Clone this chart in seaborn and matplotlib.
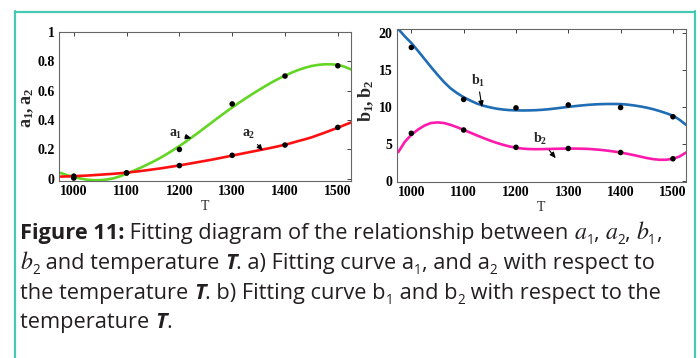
import numpy as np
import pandas as pd
import matplotlib
matplotlib.use("Agg")
import matplotlib.pyplot as plt
import seaborn as sns
from matplotlib.lines import Line2D

# ---------------- data ----------------
T_pts = [1000, 1100, 1200, 1300, 1400, 1500]
a1_pts = [0.005, 0.04, 0.20, 0.51, 0.70, 0.77]
a2_pts = [0.018, 0.04, 0.09, 0.16, 0.23, 0.35]
b1_pts = [18.1, 11.05, 9.9, 10.3, 9.95, 8.7]
b2_pts = [6.45, 6.9, 4.55, 4.4, 3.85, 3.0]

# fitted curves (every 12.5 K from 975 to 1525)
T_curve = [975, 987.5, 1000, 1012.5, 1025, 1037.5, 1050, 1062.5, 1075, 1087.5,
           1100, 1112.5, 1125, 1137.5, 1150, 1162.5, 1175, 1187.5, 1200, 1212.5,
           1225, 1237.5, 1250, 1262.5, 1275, 1287.5, 1300, 1312.5, 1325, 1337.5,
           1350, 1362.5, 1375, 1387.5, 1400, 1412.5, 1425, 1437.5, 1450, 1462.5,
           1475, 1487.5, 1500, 1512.5, 1525]
a1_curve = [0.040, 0.024, 0.012, 0.002, -0.006, -0.010, -0.009, -0.005, 0.003, 0.017,
            0.035, 0.053, 0.073, 0.094, 0.116, 0.140, 0.166, 0.194, 0.223, 0.254,
            0.286, 0.319, 0.353, 0.387, 0.421, 0.454, 0.486, 0.517, 0.547, 0.576,
            0.604, 0.631, 0.657, 0.681, 0.703, 0.723, 0.741, 0.756, 0.768, 0.776,
            0.780, 0.780, 0.776, 0.764, 0.745]
a2_curve = [0.015, 0.016, 0.018, 0.020, 0.022, 0.025, 0.028, 0.031, 0.034, 0.038,
            0.042, 0.047, 0.052, 0.058, 0.064, 0.070, 0.077, 0.084, 0.091, 0.099,
            0.107, 0.115, 0.123, 0.131, 0.140, 0.149, 0.158, 0.167, 0.176, 0.185,
            0.194, 0.203, 0.212, 0.222, 0.232, 0.244, 0.257, 0.269, 0.282, 0.298,
            0.314, 0.331, 0.348, 0.366, 0.384]
b1_curve = [20.6, 19.6, 18.7, 17.65, 16.55, 15.45, 14.4, 13.4, 12.55, 11.9,
            11.35, 10.9, 10.5, 10.2, 9.98, 9.8, 9.68, 9.6, 9.57, 9.55,
            9.56, 9.59, 9.64, 9.72, 9.82, 9.93, 10.04, 10.14, 10.23, 10.31,
            10.37, 10.41, 10.43, 10.43, 10.42, 10.35, 10.24, 10.1, 9.93, 9.72,
            9.46, 9.17, 8.85, 8.3, 7.6]
b2_curve = [3.9, 5.3, 6.25, 6.95, 7.5, 7.85, 7.93, 7.85, 7.6, 7.28,
            6.92, 6.55, 6.18, 5.82, 5.48, 5.17, 4.9, 4.67, 4.5, 4.38,
            4.32, 4.3, 4.31, 4.33, 4.35, 4.37, 4.38, 4.38, 4.37, 4.34,
            4.28, 4.2, 4.1, 3.98, 3.84, 3.68, 3.5, 3.3, 3.1, 2.95,
            2.86, 2.87, 3.0, 3.3, 3.85]

x_ticks = [1000, 1100, 1200, 1300, 1400, 1500]
a_yticks = [0, 0.2, 0.4, 0.6, 0.8, 1]
a_ytick_labels = ["0", "0.2", "0.4", "0.6", "0.8", "1"]
b_yticks = [0, 5, 10, 15, 20]

# ---------------- style ----------------
sns.set_style("white")
plt.rcParams["font.family"] = ["Liberation Serif", "DejaVu Serif"]
plt.rcParams["mathtext.fontset"] = "custom"
plt.rcParams["mathtext.rm"] = "Liberation Serif:bold"
plt.rcParams["mathtext.it"] = "Liberation Serif:bold"
plt.rcParams["mathtext.bf"] = "Liberation Serif:bold"

W, H = 700, 358
fig = plt.figure(figsize=(W / 100, H / 100), dpi=100)
fig.patch.set_facecolor("white")

GREEN = "#62d623"
RED = "#ff1010"
BLUE = "#1f6db5"
PINK = "#ff1aae"
LW = 1.9

axA = fig.add_axes([59 / W, 1 - 181 / H, 292 / W, 149 / H])
axB = fig.add_axes([396.7 / W, 1 - 182 / H, 289.3 / W, 153 / H])

dfa = pd.DataFrame({"T": T_curve, "a1": a1_curve, "a2": a2_curve})
dfb = pd.DataFrame({"T": T_curve, "b1": b1_curve, "b2": b2_curve})

line_kw = dict(lw=LW, solid_joinstyle="round", solid_capstyle="round")
sns.lineplot(data=dfa, x="T", y="a1", color=GREEN, ax=axA, **line_kw)
sns.lineplot(data=dfa, x="T", y="a2", color=RED, ax=axA, **line_kw)
sns.scatterplot(x=T_pts, y=a1_pts, color="black", s=16, edgecolor="none", ax=axA, zorder=5)
sns.scatterplot(x=T_pts, y=a2_pts, color="black", s=16, edgecolor="none", ax=axA, zorder=5)

sns.lineplot(data=dfb, x="T", y="b1", color=BLUE, ax=axB, **line_kw)
sns.lineplot(data=dfb, x="T", y="b2", color=PINK, ax=axB, **line_kw)
sns.scatterplot(x=T_pts, y=b1_pts, color="black", s=16, edgecolor="none", ax=axB, zorder=5)
sns.scatterplot(x=T_pts, y=b2_pts, color="black", s=16, edgecolor="none", ax=axB, zorder=5)

for ax in (axA, axB):
    ax.set_xlim(972, 1525)
    ax.set_xticks(x_ticks)
    ax.tick_params(direction="in", top=True, right=True, length=3, width=0.6,
                   labelsize=10, pad=3, colors="#222222")
    for lab in ax.get_xticklabels() + ax.get_yticklabels():
        lab.set_fontweight("bold")
        lab.set_color("black")
    for sp in ax.spines.values():
        sp.set_color("#666666")
        sp.set_linewidth(0.8)
    ax.set_xlabel("T", fontsize=10, labelpad=1)

axA.set_ylim(-0.015, 1.0)
axA.set_yticks(a_yticks)
axA.set_yticklabels(a_ytick_labels, fontweight="bold")
axA.set_ylabel(r"$a_1,a_2$", fontsize=13)
axA.yaxis.set_label_coords(-0.078, 0.487)

axB.set_ylim(-0.15, 20.6)
axB.set_yticks(b_yticks)
axB.set_yticklabels([str(v) for v in b_yticks], fontweight="bold")
axB.set_ylabel(r"$b_1,b_2$", fontsize=13)
axB.yaxis.set_label_coords(-0.07, 0.53)

arrow = dict(arrowstyle="-|>,head_length=0.35,head_width=0.15", color="black", lw=0.8,
             shrinkA=0, shrinkB=0)
axA.annotate(r"$a_1$", xy=(1223, 0.276), xytext=(1192, 0.305), fontsize=10,
             ha="center", va="center", arrowprops=arrow)
axA.annotate(r"$a_2$", xy=(1358, 0.191), xytext=(1332, 0.30), fontsize=10,
             ha="center", va="center", arrowprops=arrow)
axB.annotate(r"$b_1$", xy=(1135, 10.0), xytext=(1127, 13.6), fontsize=10,
             ha="center", va="center", arrowprops=arrow)
axB.annotate(r"$b_2$", xy=(1276, 3.07), xytext=(1246, 5.7), fontsize=10,
             ha="center", va="center", arrowprops=arrow)

# ---------------- frame ----------------
TEAL = "#45c9b2"
fx = lambda px: px / W
fy = lambda py: 1 - py / H
fig.add_artist(Line2D([fx(15), fx(15)], [fy(11), fy(H + 2)], color=TEAL, lw=1.6))
fig.add_artist(Line2D([fx(15), fx(695)], [fy(11.5), fy(11.5)], color=TEAL, lw=1.6))
fig.add_artist(Line2D([fx(695), fx(695)], [fy(11), fy(H + 2)], color=TEAL, lw=1.6))

# ---------------- caption ----------------
renderer = fig.canvas.get_renderer()
CAP = 15.7
TXT = "#231f20"
REG = dict(family=["Open Sans", "DejaVu Sans"], fontsize=CAP, color=TXT)
BOLD = dict(REG, fontweight="bold")
BI = dict(REG, fontweight="bold", fontstyle="italic")
ITM = dict(family=["STIXGeneral", "DejaVu Serif"], fontsize=CAP + 1.5, fontstyle="italic", color=TXT)
SUB = dict(REG, fontsize=CAP * 0.62, dy=5)


def text_width(s, kw):
    t = fig.text(0, 0, "|" + s + "|", **kw)
    t0 = fig.text(0, 0, "||", **kw)
    w = t.get_window_extent(renderer).width - t0.get_window_extent(renderer).width
    t.remove()
    t0.remove()
    return w


def draw_line(x, y, runs):
    for s, style in runs:
        kw = dict(style)
        dy = kw.pop("dy", 0)
        fig.text(fx(x), fy(y + dy), s, ha="left", va="baseline", **kw)
        x += text_width(s, kw)


draw_line(20, 239, [("Figure 11:", BOLD), (" Fitting diagram of the relationship between ", REG),
                    ("a", ITM), ("1", SUB), (", ", REG), ("a", ITM), ("2", SUB), (", ", REG),
                    ("b", ITM), ("1", SUB), (",", REG)])
draw_line(20, 269, [("b", ITM), ("2", SUB), (" and temperature ", REG), ("T", BI),
                    (". a) Fitting curve a", REG), ("1", SUB), (", and a", REG), ("2", SUB),
                    (" with respect to", REG)])
draw_line(20, 299, [("the temperature ", REG), ("T", BI), (". b) Fitting curve b", REG), ("1", SUB),
                    (" and b", REG), ("2", SUB), (" with respect to the", REG)])
draw_line(20, 328, [("temperature ", REG), ("T", BI), (".", REG)])

fig.savefig("out.png", dpi=100, facecolor="white")
